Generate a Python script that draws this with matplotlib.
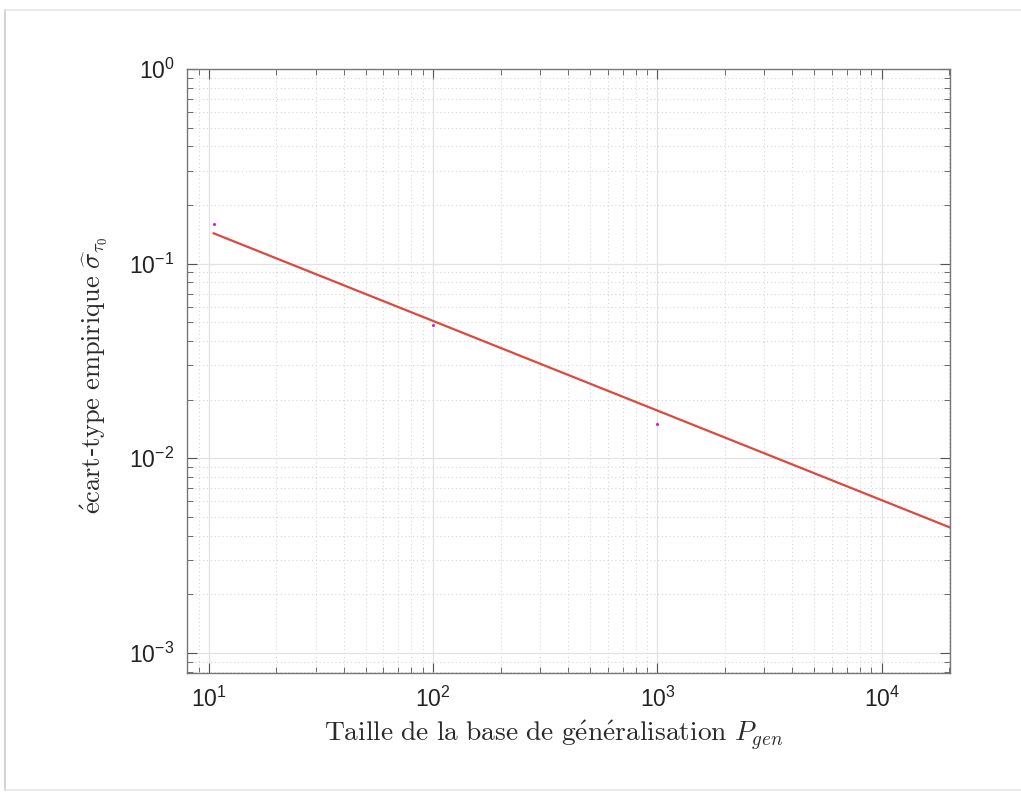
import matplotlib
matplotlib.use("Agg")
import matplotlib.pyplot as plt
from matplotlib.lines import Line2D
from matplotlib.ticker import LogLocator, NullFormatter

# data
p_gen = [10.5, 100, 1000]
sigma_emp = [0.159, 0.0485, 0.0150]
fit_x = [10.5, 2.017e4]
fit_y = [0.143, 0.0044]

plt.rcParams['font.family'] = ['Liberation Sans', 'DejaVu Sans']
plt.rcParams['mathtext.fontset'] = 'cm'

W, H = 1021, 792
fig = plt.figure(figsize=(W / 100, H / 100), dpi=100)
ax = fig.add_axes([187 / W, 1 - 673 / H, (950 - 187) / W, (673 - 69) / H])

ax.plot(fit_x, fit_y, color='#db4a3f', lw=1.6, zorder=3)
ax.plot(p_gen, sigma_emp, linestyle='none', marker='o', ms=2.2,
        color='#d21fd2', mec='none', zorder=4)

ax.set_xscale('log')
ax.set_yscale('log')
ax.set_xlim(7.98, 2.017e4)
ax.set_ylim(7.86e-4, 1.0)

ax.xaxis.set_major_locator(LogLocator(base=10, numticks=10))
ax.yaxis.set_major_locator(LogLocator(base=10, numticks=10))
ax.xaxis.set_minor_locator(LogLocator(base=10, subs=range(2, 10), numticks=20))
ax.yaxis.set_minor_locator(LogLocator(base=10, subs=range(2, 10), numticks=20))
ax.xaxis.set_minor_formatter(NullFormatter())
ax.yaxis.set_minor_formatter(NullFormatter())

ax.grid(True, which='major', color='#e2e2e2', lw=0.9, ls='-')
ax.grid(True, which='minor', color='#d6d6d6', lw=0.8, ls=(0, (1, 2.5)))
ax.set_axisbelow(True)

ax.tick_params(which='both', direction='in', top=True, right=True,
               colors='#555555', labelcolor='#222222')
ax.tick_params(which='major', length=7, width=0.8, labelsize=16.5)
ax.tick_params(axis='x', which='major', pad=10)
ax.tick_params(axis='y', which='major', pad=9)
ax.tick_params(which='minor', length=4, width=0.6)
for s in ax.spines.values():
    s.set_color('#777777')
    s.set_linewidth(1.0)

fig.text(554 / W, 1 - 741 / H,
         r"$\mathrm{Taille\ de\ la\ base\ de\ g\acute{e}n\acute{e}ralisation}\ P_{gen}$",
         fontsize=19.8, color='#2a2a2a', ha='center', va='baseline')
fig.text(94 / W, 1 - 375 / H,
         r"$\mathrm{\acute{e}cart}$-$\mathrm{type\ empirique}\ \widehat{\sigma}_{\tau_0}$",
         fontsize=19, color='#2a2a2a', family='DejaVu Serif', rotation=90,
         ha='center', va='center')

# faint screenshot frame
frame_c = '#d4d4d4'
fig.add_artist(Line2D([5 / W, 5 / W], [1 - 10 / H, 2 / H], transform=fig.transFigure, color=frame_c, lw=1.5))
fig.add_artist(Line2D([5 / W, 1.0], [1 - 10 / H, 1 - 10 / H], transform=fig.transFigure, color='#e6e6e6', lw=1.2))
fig.add_artist(Line2D([5 / W, 1.0], [2 / H, 2 / H], transform=fig.transFigure, color='#e6e6e6', lw=1.2))

fig.savefig('out.png', dpi=100)
